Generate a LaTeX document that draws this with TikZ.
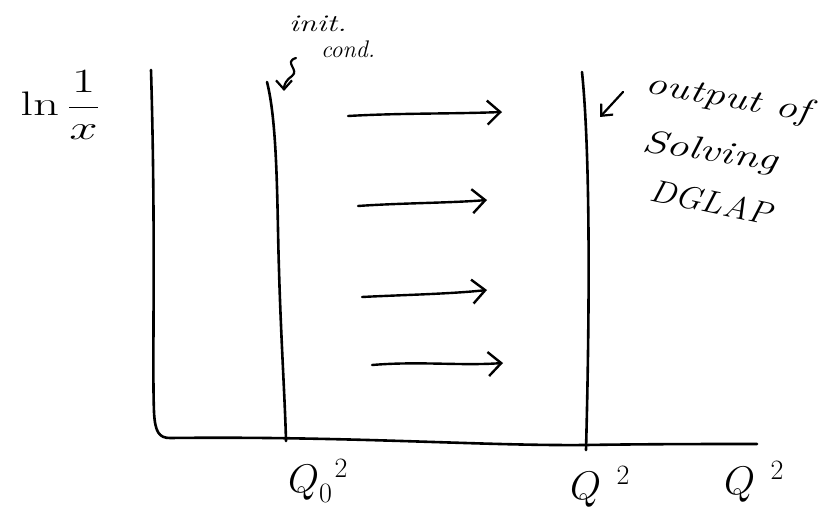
\RequirePackage{fix-cm}
\documentclass[tikz,border=0pt]{standalone}
\usetikzlibrary{arrows.meta}
\begin{document}
\begin{tikzpicture}[x=1pt,y=-1pt,line cap=round,line join=round,
  pen/.style={line width=2.6pt},
  flow/.style={line width=2.4pt,-{Straight Barb[length=13pt,width=24pt,line width=2.4pt]}},
  pointer/.style={line width=2.2pt,-{Straight Barb[length=9pt,width=16pt,line width=2.2pt]}},
  hand/.style={font=\fontsize{32}{34}\selectfont\itshape,inner sep=0pt},
  small/.style={font=\fontsize{24}{26}\selectfont\itshape,inner sep=0pt},
  axislabel/.style={font=\fontsize{40}{42}\selectfont,inner sep=0pt}]
\useasboundingbox (0,0) rectangle (824,510);

% axes: vertical ln(1/x) axis bending into the Q^2 axis
\coordinate (ytop) at (151,70);
\coordinate (corner) at (170,438);
\coordinate (xend) at (757,444);
\draw[pen] (ytop) .. controls (156,240) and (152,360) .. (154,412)
  .. controls (155,432) and (159,438) .. (corner)
  .. controls (350,436) and (480,446) .. (586,445)
  .. controls (650,444) and (710,444) .. (xend);

% line of initial conditions at Q_0^2
\coordinate (inittop) at (267,82);
\coordinate (initbot) at (286,441);
\draw[pen] (inittop) .. controls (278,125) and (277,210) .. (279,270)
  .. controls (281,340) and (285,400) .. (initbot);

% line of evolved distributions at Q^2
\coordinate (outtop) at (582,72);
\coordinate (outbot) at (586,450);
\draw[pen] (outtop) .. controls (590,150) and (590,300) .. (outbot);

% evolution arrows
\coordinate (a1s) at (348,116); \coordinate (a1e) at (502,112);
\coordinate (a2s) at (358,206); \coordinate (a2e) at (487,200);
\coordinate (a3s) at (362,297); \coordinate (a3e) at (487,290);
\coordinate (a4s) at (372,365); \coordinate (a4e) at (503,363);
\draw[flow] (a1s) .. controls (400,113) and (450,114) .. (a1e);
\draw[flow] (a2s) .. controls (400,203) and (450,203) .. (a2e);
\draw[flow] (a3s) .. controls (400,295) and (450,294) .. (a3e);
\draw[flow] (a4s) .. controls (420,361) and (460,366) .. (a4e);

% labels
\node[font=\fontsize{34}{36}\selectfont,inner sep=0pt,xscale=1.5] (ylab) at (60,105) {$\ln\displaystyle\frac{1}{x}$};
\node[small,xscale=1.35] (init) at (318,24) {init.};
\node[small] (cond) at (348,49) {cond.};
\node[hand,rotate=-10,xscale=1.35] (outp) at (728,99) {output of};
\node[hand,rotate=-8,xscale=1.4] (solv) at (710,153) {Solving};
\node[hand,rotate=-12,xscale=1.1] (dglap) at (711,202) {DGLAP};
\node[axislabel] (qzero) at (318,481) {$Q_0^{\;\;2}$};
\node[axislabel] (qmid) at (600,487) {$Q^{\;\;2}$};
\node[axislabel] (qend) at (754,482) {$Q^{\;\;2}$};

% pointers from the notes to the lines
\coordinate (cs) at (296,58);
\coordinate (initpt) at (284,91);
\draw[pointer] (cs) .. controls (283,62) and (300,70) .. (292,76)
  .. controls (286,80) and (284,85) .. (initpt);
\coordinate (os) at (623,92);
\coordinate (outpt) at (600,117);
\draw[pointer] (os) -- (outpt);
\end{tikzpicture}
\end{document}
